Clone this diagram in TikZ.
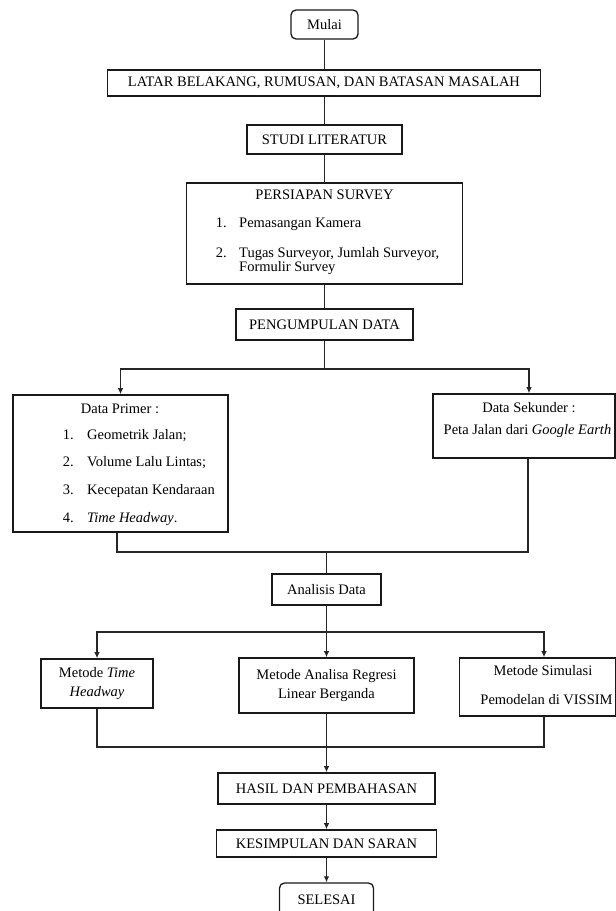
\documentclass[tikz,border=0pt]{standalone}
\usepackage{fontspec}
\setmainfont{Liberation Serif}
\usetikzlibrary{arrows.meta}
\begin{document}
\begin{tikzpicture}[x=1pt,y=-1pt,
  every node/.style={font=\fontsize{14.5}{16.5}\selectfont, inner sep=0pt},
  box/.style={draw=black!90, line width=1.6pt, rectangle, align=center},
  rbox/.style={box, rounded corners=5pt, line width=1.3pt},
  conn/.style={draw=black!85, line width=1.1pt},
  arr/.style={conn, -{Latex[length=6pt,width=5.5pt]}},
  txt/.style={inner sep=0pt}
  ]
\useasboundingbox (0,0) rectangle (616,911);
\clip (0,0) rectangle (616,911);

% main column
\node[rbox, minimum width=67pt, minimum height=29pt] (mulai) at (324.5,24.5) {Mulai};
\node[box, minimum width=433pt, minimum height=26pt] (latar) at (324,83) {LATAR BELAKANG, RUMUSAN, DAN BATASAN MASALAH};
\node[box, minimum width=155pt, minimum height=29pt] (studi) at (324.5,139.5) {STUDI LITERATUR};
\node[box, minimum width=276pt, minimum height=101pt] (persiapan) at (324.5,233.5) {};
\node[txt, anchor=mid] (pt) at (324.5,197) {PERSIAPAN SURVEY};
\node[txt, anchor=mid east] (pn1) at (227,225) {1.};
\node[txt, anchor=mid west] (pi1) at (239,225) {Pemasangan Kamera};
\node[txt, anchor=mid east] (pn2) at (227,255) {2.};
\node[txt, anchor=mid west] (pi2) at (239,255) {Tugas Surveyor, Jumlah Surveyor,};
\node[txt, anchor=mid west] (pi3) at (239,269.5) {Formulir Survey};
\node[box, minimum width=177pt, minimum height=31pt] (peng) at (324.5,324.5) {PENGUMPULAN DATA};

% data boxes
\node[box, minimum width=215pt, minimum height=137pt] (primer) at (120.5,463.5) {};
\node[txt, anchor=mid] (prt) at (120,411) {Data Primer :};
\node[txt, anchor=mid east] (prn1) at (74,437) {1.};
\node[txt, anchor=mid west] (pri1) at (87,437) {Geometrik Jalan;};
\node[txt, anchor=mid east] (prn2) at (74,464) {2.};
\node[txt, anchor=mid west] (pri2) at (87,464) {Volume Lalu Lintas;};
\node[txt, anchor=mid east] (prn3) at (74,492) {3.};
\node[txt, anchor=mid west] (pri3) at (87,492) {Kecepatan Kendaraan};
\node[txt, anchor=mid east] (prn4) at (74,520) {4.};
\node[txt, anchor=mid west] (pri4) at (87,520) {\textit{Time Headway}.};

\node[box, minimum width=182pt, minimum height=64pt] (sek) at (524,426) {};
\node[txt, anchor=mid] (skt) at (529,410) {Data Sekunder :};
\node[txt, anchor=mid] (ski) at (527.5,432) {Peta Jalan dari \textit{Google Earth}};

\node[box, minimum width=109pt, minimum height=31pt] (analisis) at (326.5,589.5) {Analisis Data};

% methods
\node[box, minimum width=112pt, minimum height=49pt] (m1) at (97,683.5) {Metode \textit{Time}\\[3pt]\textit{Headway}};
\node[box, minimum width=175pt, minimum height=55pt] (m2) at (326.5,685.5) {Metode Analisa Regresi\\[2pt]Linear Berganda};
\node[box, minimum width=156pt, minimum height=58pt] (m3) at (537.5,687) {};
\node[txt, anchor=mid] (m3a) at (543,673) {Metode Simulasi};
\node[txt, anchor=mid] (m3b) at (546.5,702) {Pemodelan di VISSIM};

\node[box, minimum width=217pt, minimum height=31pt] (hasil) at (326.5,788.5) {HASIL DAN PEMBAHASAN};
\node[box, minimum width=220pt, minimum height=27pt] (kes) at (326.5,843.5) {KESIMPULAN DAN SARAN};
\node[rbox, minimum width=94pt, minimum height=33pt] (selesai) at (326.5,899.5) {SELESAI};

% junction points
\coordinate (j1) at (324.5,369);
\coordinate (j2) at (326.5,552);
\coordinate (j3) at (326.5,632);
\coordinate (j4) at (326.5,747);

% connectors
\draw[conn] (mulai.south) -- (mulai.south |- latar.north);
\draw[conn] (latar.south -| studi.north) -- (studi.north);
\draw[conn] (studi.south) -- (persiapan.north);
\draw[conn] (persiapan.south) -- (peng.north);
\draw[conn] (peng.south) -- (j1);
\draw[arr] (j1) -| (primer.north);
\draw[arr] (j1) -| ([xshift=5pt]sek.north);
\draw[conn] ([xshift=-3.5pt]primer.south) |- (j2);
\draw[conn] ([xshift=4pt]sek.south) |- (j2);
\draw[conn] (j2) -- (analisis.north);
\draw[conn] (analisis.south) -- (j3);
\draw[arr] (j3) -| (m1.north);
\draw[arr] (j3) -- (m2.north);
\draw[arr] (j3) -| ([xshift=6.5pt]m3.north);
\draw[conn] (m1.south) |- (j4);
\draw[conn] ([xshift=6.5pt]m3.south) |- (j4);
\draw[conn] (m2.south) -- (j4);
\draw[arr] (j4) -- (hasil.north);
\draw[arr] (hasil.south) -- (kes.north);
\draw[arr] (kes.south) -- (selesai.north);
\end{tikzpicture}
\end{document}
